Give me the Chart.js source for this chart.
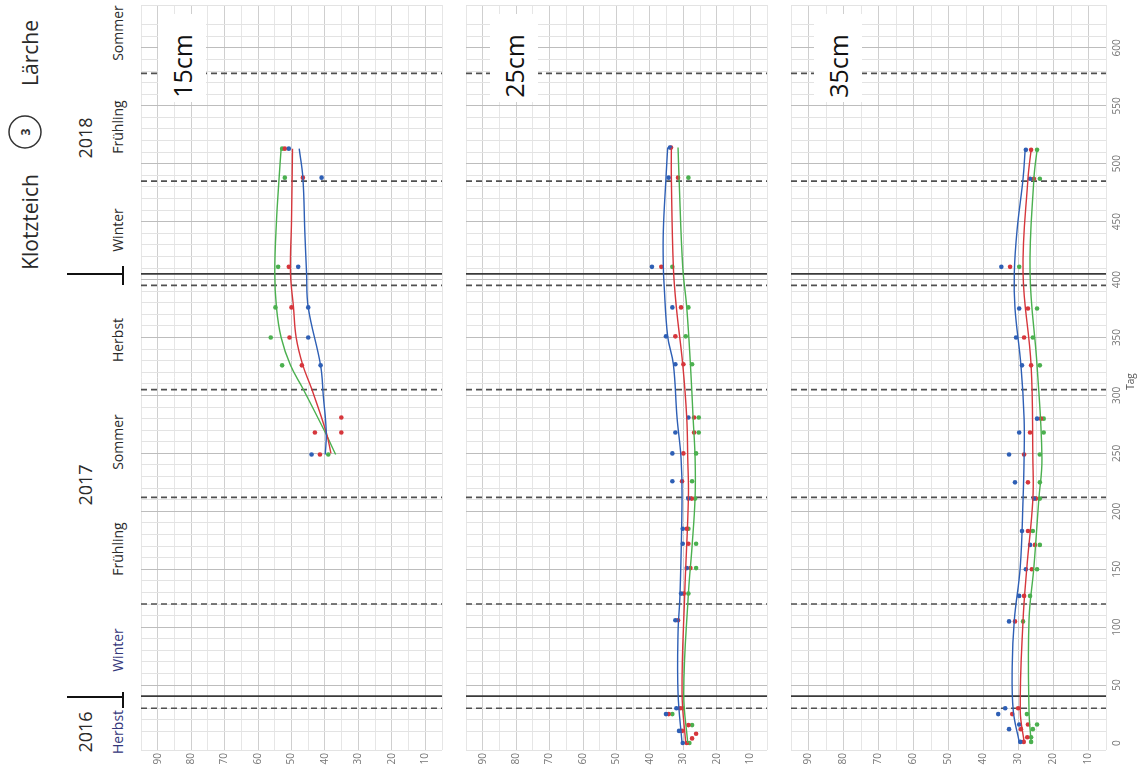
<!DOCTYPE html>
<html>
<head>
<meta charset="utf-8">
<script src="https://cdn.jsdelivr.net/npm/chart.js@4.4.0/dist/chart.umd.min.js"></script>
<style>
  body { margin: 0; background: #fff; width: 1139px; height: 776px; overflow: hidden; position: relative; font-family: "Open Sans", sans-serif; }
  canvas { position: absolute; top: 0; }
  .rot { position: absolute; transform: translate(-50%, -50%) rotate(-90deg); white-space: nowrap; color: #2a2a2a; }
  .strich { position: absolute; background: #111; }
  .box { position: absolute; background: #fff; }
</style>
</head>
<body>
<canvas id="c15" width="320" height="776" style="left:137px"></canvas>
<canvas id="c25" width="320" height="776" style="left:462px"></canvas>
<canvas id="c35" width="352" height="776" style="left:787px"></canvas>

<div class="rot" style="left:30px;top:53px;font-size:21px">Lärche</div>
<div class="rot" style="left:30px;top:222px;font-size:21px">Klotzteich</div>
<svg style="position:absolute;left:7px;top:114px" width="36" height="36">
  <circle cx="18" cy="18" r="16" fill="none" stroke="#333" stroke-width="1.5"/>
  <text x="0" y="0" transform="translate(18 18) rotate(-90)" text-anchor="middle" dominant-baseline="central"
        font-family="Open Sans, sans-serif" font-size="12" font-weight="bold" fill="#333">3</text>
</svg>

<div class="rot" style="left:85px;top:138px;font-size:18px">2018</div>
<div class="rot" style="left:85px;top:485px;font-size:18px">2017</div>
<div class="rot" style="left:85px;top:732px;font-size:18px">2016</div>

<div class="rot" style="left:117px;top:33px;font-size:14px">Sommer</div>
<div class="rot" style="left:117px;top:127px;font-size:14px">Frühling</div>
<div class="rot" style="left:117px;top:230px;font-size:14px">Winter</div>
<div class="rot" style="left:117px;top:340px;font-size:14px">Herbst</div>
<div class="rot" style="left:117px;top:442px;font-size:14px">Sommer</div>
<div class="rot" style="left:117px;top:549px;font-size:14px">Frühling</div>
<div class="rot" style="left:117px;top:650px;font-size:14px;color:#33367a">Winter</div>
<div class="rot" style="left:117px;top:732px;font-size:14px;color:#33367a">Herbst</div>

<div class="strich" style="left:67px;top:273px;width:56px;height:2px"></div>
<div class="strich" style="left:122px;top:266px;width:2px;height:19px"></div>
<div class="strich" style="left:67px;top:696px;width:56px;height:2px"></div>
<div class="strich" style="left:122px;top:692px;width:2px;height:16px"></div>

<div class="box" style="left:158px;top:14px;width:48px;height:88px"></div>
<div class="rot" style="left:182px;top:66px;font-size:25px;color:#111">15cm</div>
<div class="box" style="left:490px;top:14px;width:48px;height:88px"></div>
<div class="rot" style="left:514px;top:66px;font-size:25px;color:#111">25cm</div>
<div class="box" style="left:814px;top:14px;width:48px;height:88px"></div>
<div class="rot" style="left:838px;top:66px;font-size:25px;color:#111">35cm</div>

<script>
// Tag-Grenzen (Jahreszeiten gestrichelt, Jahreswechsel durchgezogen)
const jahreszeiten = [30, 120, 212, 305, 395, 485, 578];
const jahreswechsel = [40.5, 405];
const tagTicks = [0, 50, 100, 150, 200, 250, 300, 350, 400, 450, 500, 550, 600];

// 15cm - Messpunkte
const p15Tag   = [513, 488, 411, 376, 350, 326, 281, 268, 268, 249];
const p15Blau  = [50.8, 41, 48, 45, 45, 41.3, null, null, null, 44];
const p15Rot   = [52.0, 46.6, 50.8, 50, 50.6, 46.9, 35.1, 43, 35.1, 41.5];
const p15Gruen = [52.8, 52, 54, 54.8, 56.2, 52.8, null, null, null, 39];
// 15cm - Trendlinien
const k15BlauTag  = [513, 488, 440, 406, 376, 326, 300, 268, 249];
const k15Blau     = [47.7, 46.6, 46, 45.5, 45, 41.3, 40.5, 39.6, 39.9];
const k15RotTag   = [513, 450, 406, 376, 350, 326, 306, 268, 250];
const k15Rot      = [49.7, 50, 50.3, 49.4, 48.6, 46.6, 44, 39.6, 38.2];
const k15GruenTag = [513, 488, 450, 406, 376, 350, 326, 306, 268, 249];
const k15Gruen    = [53.1, 53.7, 54.5, 55, 54.5, 53.1, 50.3, 46.6, 39.9, 36.8];

// 25cm - Messpunkte
const p25Tag   = [514, 488, 411, 376, 351, 327, 281, 268, 250, 226, 211, 185, 172, 151, 129, 106, 30, 25, 15.5, 10.5, 8, 4, 0];
const p25Blau  = [34, 34.4, 39.4, 33.3, 35.2, 32.4, 28.5, 32.4, 33.3, 33.3, 28.5, 30.2, 30.2, 29, 30.7, 32.4, 32.1, 35.2, null, 31.3, null, null, 30.2];
const p25Rot   = [33.7, 31.6, 36.6, 30.7, 32.4, 30, 26.8, 26.8, 30, 30.4, 27.5, 29, 28.5, 27.9, 29.9, 31.6, 31, 34.4, 28.5, 30.4, 26.2, 27.4, 29];
const p25Gruen = [null, 28.5, 33.3, 28.5, 29.3, 27.4, 25.4, 25.4, 26.2, 27.4, 26.5, 28.5, 26.2, 26.2, 28.5, null, 30.2, 33.3, 27.4, null, null, null, 28.2];
// 25cm - Trendlinien
const k25BlauTag  = [514, 488, 442, 411, 397, 351, 327, 281, 246, 212, 129, 95, 43, 0];
const k25Blau     = [34.7, 35.2, 36, 36, 35.8, 34.7, 33, 31.9, 30.7, 30.4, 31, 31.6, 31.6, 30.4];
const k25RotTag   = [514, 488, 411, 376, 327, 281, 246, 212, 129, 43, 0];
const k25Rot      = [33.6, 33.6, 33, 32.1, 30.2, 29, 28.7, 28.5, 29.6, 30.4, 29.3];
const k25GruenTag = [514, 488, 411, 376, 327, 281, 246, 212, 170, 129, 43, 0];
const k25Gruen    = [31.6, 31.3, 30.2, 29, 27.9, 27.1, 26.5, 26.5, 27.4, 28.5, 29.9, 28.7];

// 35cm - Messpunkte
const p35Tag   = [512, 487, 411, 375, 350, 326, 280, 268, 249, 225, 211, 183, 171, 150, 127, 105, 30, 25, 16, 12, 5, 1];
const p35Blau  = [27.9, 26.7, 34.9, 29.8, 30.7, 29, 24.7, 29.8, 32.7, 31, 25.6, 29, 26.7, 27.9, 29.8, 32.7, 33.8, 35.8, 29.8, 32.7, null, 29.5];
const p35Rot   = [26.4, 25.6, 32.4, 27.3, 28.4, 26.4, 23.6, 26.7, 28.4, 27.3, 25, 27.3, 25.3, 26.2, 28.4, 31, 30.1, 31.8, 27.3, 29.3, 27.5, 28.5];
const p35Gruen = [24.7, 23.9, 29.8, 24.7, 25.9, 23.9, 22.8, 22.8, 23.9, 23.9, 23.9, 25.9, 23.9, 24.7, 26.7, 28.7, null, 27.6, 24.7, 25.9, 26.4, 26.4];
// 35cm - Trendlinien
const k35BlauTag  = [512, 487, 443, 406, 375, 326, 280, 246, 210, 152, 106, 66, 28, 1];
const k35Blau     = [28.1, 28.7, 30.4, 31.2, 31, 29.3, 28.4, 28.4, 28.7, 29.5, 31.2, 31.8, 31.5, 29.8];
const k35RotTag   = [512, 487, 406, 326, 246, 210, 152, 106, 28, 1];
const k35Rot      = [26.4, 27.3, 28.7, 26.4, 25.9, 25.9, 27.6, 28.7, 29.5, 28.4];
const k35GruenTag = [512, 487, 406, 326, 246, 210, 152, 106, 28, 1];
const k35Gruen    = [24.7, 25.6, 26.7, 24.7, 23.3, 24.2, 25.6, 27, 27, 26.4];

const BLAU = "#2e5fb5";
const ROT = "#d6363c";
const GRUEN = "#4bb04f";

function punkte(tage, werte) {
  const out = [];
  tage.forEach((t, i) => { if (werte[i] != null) out.push({ x: werte[i], y: t }); });
  return out;
}

function kurve(tage, werte, farbe) {
  return { type: "scatter", data: punkte(tage, werte), showLine: true, borderColor: farbe,
           borderWidth: 1.4, pointRadius: 0, tension: 0.4, fill: false };
}

function streu(tage, werte, farbe) {
  return { type: "scatter", data: punkte(tage, werte), showLine: false, backgroundColor: farbe,
           borderColor: farbe, pointRadius: 2.3, borderWidth: 0 };
}

const linienPlugin = {
  id: "linien",
  beforeDatasetsDraw(chart) {
    const { ctx, chartArea: a, scales: { y } } = chart;
    ctx.save();
    ctx.strokeStyle = "#505050";
    ctx.lineWidth = 1.6;
    ctx.setLineDash([6, 4]);
    jahreszeiten.forEach(t => {
      const py = y.getPixelForValue(t);
      ctx.beginPath(); ctx.moveTo(a.left, py); ctx.lineTo(a.right, py); ctx.stroke();
    });
    ctx.setLineDash([]);
    ctx.strokeStyle = "#3a3a3a";
    ctx.lineWidth = 1.8;
    jahreswechsel.forEach(t => {
      const py = y.getPixelForValue(t);
      ctx.beginPath(); ctx.moveTo(a.left, py); ctx.lineTo(a.right, py); ctx.stroke();
    });
    ctx.restore();
  }
};

const tagAchsePlugin = {
  id: "tagAchse",
  afterDraw(chart) {
    if (chart.canvas.id !== "c35") return;
    const { ctx, chartArea: a, scales: { y } } = chart;
    ctx.save();
    ctx.fillStyle = "#777";
    ctx.font = "10px 'Open Sans', sans-serif";
    ctx.textAlign = "center";
    ctx.textBaseline = "middle";
    tagTicks.forEach(t => {
      ctx.save();
      ctx.translate(a.right + 11, y.getPixelForValue(t));
      ctx.rotate(-Math.PI / 2);
      ctx.fillText(String(t), 0, 0);
      ctx.restore();
    });
    ctx.translate(a.right + 25, y.getPixelForValue(312));
    ctx.rotate(-Math.PI / 2);
    ctx.fillStyle = "#555";
    ctx.fillText("Tag", 0, 0);
    ctx.restore();
  }
};

function panel(id, sets, rechts) {
  new Chart(document.getElementById(id), {
    type: "scatter",
    data: { datasets: sets },
    options: {
      responsive: false,
      animation: false,
      layout: { padding: { top: 5, left: 0, right: 0, bottom: 0 } },
      plugins: { legend: { display: false }, tooltip: { enabled: false } },
      scales: {
        x: {
          type: "linear", reverse: true, min: 5, max: 95,
          border: { display: false },
          grid: { drawTicks: false, color: c => (c.tick.value % 10 === 0 ? "#cfcfcf" : "#e6e6e6") },
          ticks: {
            stepSize: 5, minRotation: 90, maxRotation: 90, color: "#777", padding: 3,
            font: { size: 10, family: "'Open Sans', sans-serif" },
            callback: v => (v % 10 === 0 && v >= 10 && v <= 90 ? String(v) : "")
          },
          afterFit: s => { s.height = 26; }
        },
        y: {
          type: "linear", min: -6, max: 637, position: rechts ? "right" : "left",
          border: { display: false },
          grid: { drawTicks: false, color: c => (c.tick.value % 50 === 0 ? "#bdbdbd" : "#e3e3e3") },
          ticks: { stepSize: 10, display: false },
          afterFit: s => { s.width = rechts ? 33 : 0; }
        }
      }
    },
    plugins: [linienPlugin, tagAchsePlugin]
  });
}

panel("c15", [
  kurve(k15BlauTag, k15Blau, BLAU), kurve(k15RotTag, k15Rot, ROT), kurve(k15GruenTag, k15Gruen, GRUEN),
  streu(p15Tag, p15Blau, BLAU), streu(p15Tag, p15Rot, ROT), streu(p15Tag, p15Gruen, GRUEN)
], false);

panel("c25", [
  kurve(k25BlauTag, k25Blau, BLAU), kurve(k25RotTag, k25Rot, ROT), kurve(k25GruenTag, k25Gruen, GRUEN),
  streu(p25Tag, p25Blau, BLAU), streu(p25Tag, p25Rot, ROT), streu(p25Tag, p25Gruen, GRUEN)
], false);

panel("c35", [
  kurve(k35BlauTag, k35Blau, BLAU), kurve(k35RotTag, k35Rot, ROT), kurve(k35GruenTag, k35Gruen, GRUEN),
  streu(p35Tag, p35Blau, BLAU), streu(p35Tag, p35Rot, ROT), streu(p35Tag, p35Gruen, GRUEN)
], true);
</script>
</body>
</html>
